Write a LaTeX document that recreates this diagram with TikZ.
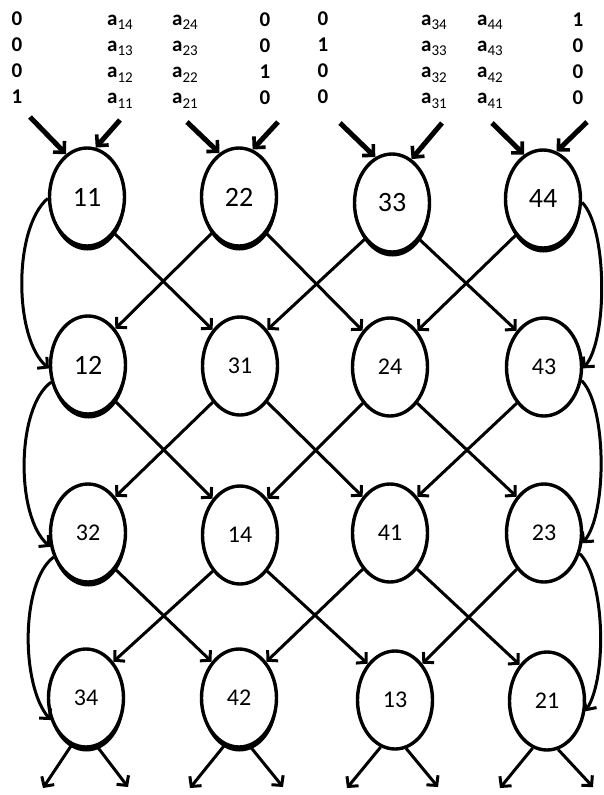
\documentclass[tikz,border=0pt]{standalone}
\usepackage{fontspec}
\setmainfont{Carlito}
\usetikzlibrary{shapes.geometric,arrows.meta,shadows}
\tikzset{
  nd/.style={ellipse, draw, line width=3.4pt, minimum width=75pt, minimum height=98pt, inner sep=0pt, fill=white, font=\fontsize{24}{24}\selectfont},
  ndb/.style={nd, font=\fontsize{28}{28}\selectfont},
  shd/.style={drop shadow={shadow xshift=0.5pt, shadow yshift=-4.5pt, opacity=1, fill=black}},
  arr/.style={line width=3pt, -{Straight Barb[length=7pt,width=15pt]}},
  inarr/.style={line width=5pt, -{Straight Barb[length=8pt,width=16pt,line width=3.6pt]}},
  lbl/.style={anchor=base, inner sep=0pt, font=\fontsize{21}{21}\selectfont\bfseries},
  lbla/.style={anchor=base west, inner sep=0pt, font=\fontsize{21}{21}\selectfont\bfseries},
}
\newcommand{\aij}[1]{a\raisebox{-4.5pt}{\fontsize{15}{15}\selectfont\mdseries #1}}
\begin{document}
\begin{tikzpicture}[x=1pt,y=-1pt]
\useasboundingbox[fill=white] (0,0) rectangle (604,795);
% top labels
\foreach \v [count=\i] in {0,0,0,1} {
  \pgfmathsetmacro{\yy}{25+26.3*(\i-1)}
  \node[lbl] (c1r\i) at (17,\yy) {\v};
}
\foreach \v [count=\i] in {14,13,12,11} {
  \pgfmathsetmacro{\yy}{25+26.3*(\i-1)}
  \node[lbla] (c2r\i) at (107,\yy) {\aij{\v}};
}
\foreach \v [count=\i] in {24,23,22,21} {
  \pgfmathsetmacro{\yy}{25+26.3*(\i-1)}
  \node[lbla] (c3r\i) at (172,\yy) {\aij{\v}};
}
\foreach \v [count=\i] in {0,0,1,0} {
  \pgfmathsetmacro{\yy}{26+26.3*(\i-1)}
  \node[lbl] (c4r\i) at (265,\yy) {\v};
}
\foreach \v [count=\i] in {0,1,0,0} {
  \pgfmathsetmacro{\yy}{25+26.3*(\i-1)}
  \node[lbl] (c5r\i) at (323,\yy) {\v};
}
\foreach \v [count=\i] in {34,33,32,31} {
  \pgfmathsetmacro{\yy}{25+26.3*(\i-1)}
  \node[lbla] (c6r\i) at (421,\yy) {\aij{\v}};
}
\foreach \v [count=\i] in {44,43,42,41} {
  \pgfmathsetmacro{\yy}{25+26.3*(\i-1)}
  \node[lbla] (c7r\i) at (477,\yy) {\aij{\v}};
}
\foreach \v [count=\i] in {1,0,0,0} {
  \pgfmathsetmacro{\yy}{26+26.3*(\i-1)}
  \node[lbl] (c8r\i) at (578,\yy) {\v};
}
% nodes
\node[ndb,shd] (n11) at (87,197) {11};
\node[ndb,shd] (n22) at (239,197) {22};
\node[ndb,shd] (n33) at (392,203) {33};
\node[ndb,shd] (n44) at (543,199) {44};
\node[ndb,shd] (n12) at (88,365) {12};
\node[nd] (n31) at (240,366) {31};
\node[nd] (n24) at (390,367) {24};
\node[nd] (n43) at (544,367) {43};
\node[nd,shd] (n32) at (88,533) {32};
\node[nd] (n14) at (240,535) {14};
\node[nd] (n41) at (390,533) {41};
\node[nd] (n23) at (544,533) {23};
\node[nd,shd] (n34) at (86,698) {34};
\node[nd,shd] (n42) at (239,698) {42};
\node[nd] (n13) at (395,700) {13};
\node[nd] (n21) at (547,701) {21};
% input arrows
\coordinate (i11a) at (30,117); \coordinate (i11b) at (120,120);
\coordinate (i22a) at (187,122); \coordinate (i22b) at (278,122);
\coordinate (i33a) at (340,123); \coordinate (i33b) at (442,123);
\coordinate (i44a) at (492,123); \coordinate (i44b) at (587,122);
\draw[inarr] (i11a) -- (n11.116);
\draw[inarr] (i11b) -- (n11.80);
\draw[inarr] (i22a) -- (n22.114);
\draw[inarr] (i22b) -- (n22.74);
\draw[inarr] (i33a) -- (n33.110);
\draw[inarr] (i33b) -- (n33.66);
\draw[inarr] (i44a) -- (n44.113);
\draw[inarr] (i44b) -- (n44.74);
% crossing arrows
\foreach \a/\b in {n11/n31,n22/n24,n33/n43,n12/n14,n31/n41,n24/n23,n32/n42,n14/n13,n41/n21}
  \draw[arr] (\a.307) -- (\b.127);
\foreach \a/\b in {n22/n12,n33/n31,n44/n24,n31/n32,n24/n14,n43/n41,n14/n34,n41/n42,n23/n13}
  \draw[arr] (\a.233) -- (\b.53);
% side curves
\draw[arr] (n11.182) .. controls +(-35,30) and +(-35,-30) .. (n12.185);
\draw[arr] (n12.205) .. controls +(-35,25) and +(-35,-30) .. (n32.200);
\draw[arr] (n32.215) .. controls +(-33,25) and +(-30,-35) .. (n34.212);
\draw[arr] (n44.355) .. controls +(25,25) and +(25,-30) .. (n43.358);
\draw[arr] (n43.340) .. controls +(25,25) and +(25,-30) .. (n23.345);
\draw[arr] (n23.330) .. controls +(25,25) and +(22,-35) .. (n21.345);
% output arrows
\coordinate (o34a) at (43,788); \coordinate (o34b) at (128,787);
\coordinate (o42a) at (190,788); \coordinate (o42b) at (283,787);
\coordinate (o13a) at (347,788); \coordinate (o13b) at (438,787);
\coordinate (o21a) at (500,788); \coordinate (o21b) at (593,787);
\foreach \n in {34,42,13,21} {
  \draw[arr] (n\n.253) -- (o\n a);
  \draw[arr] (n\n.283) -- (o\n b);
}
\end{tikzpicture}
\end{document}
